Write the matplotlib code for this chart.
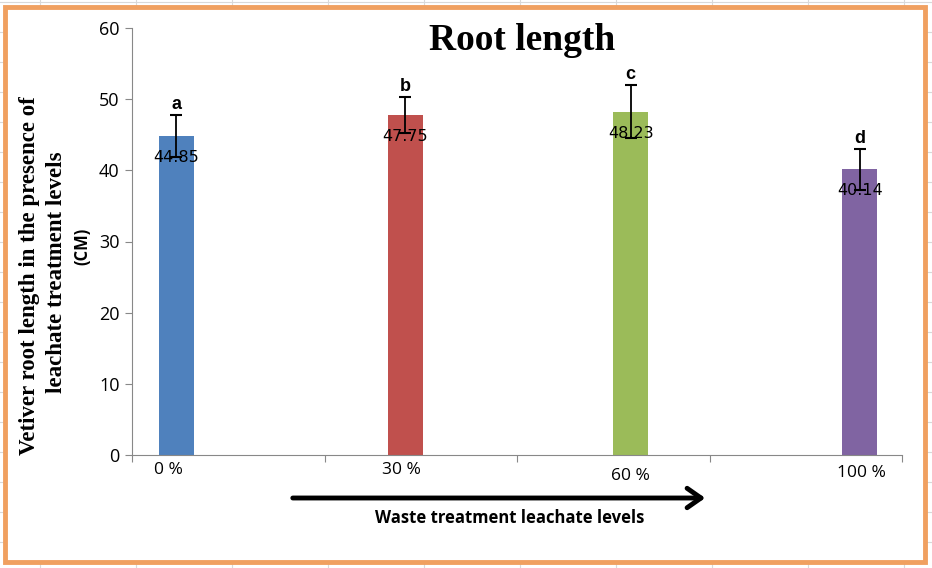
import matplotlib
matplotlib.use('Agg')
import matplotlib.pyplot as plt
from matplotlib.patches import Rectangle, FancyArrowPatch

# data
levels = ['0 %', '30 %', '60 %', '100 %']
root_len = [44.85, 47.75, 48.23, 40.14]
err = [2.95, 2.55, 3.75, 2.9]
letters = ['a', 'b', 'c', 'd']
colors = ['#4F81BD', '#C0504D', '#9BBB59', '#8064A2']

# layout (bars were nudged by hand in the original, not centred in categories)
bar_x = [0.23, 1.42, 2.59, 3.78]
lab_x = [0.19, 1.40, 2.59, 3.79]
lab_dy = [0, 0, -6, -3]

fig = plt.figure(figsize=(9.32, 5.68), dpi=100)

# faint spreadsheet cells behind the chart
for x in range(40, 932, 96):
    fig.add_artist(plt.Line2D([x/932, x/932], [0, 1], color='#d9d9d9', lw=0.8, zorder=0))
for y in range(2, 568, 30):
    fig.add_artist(plt.Line2D([0, 1], [1 - y/568, 1 - y/568], color='#d9d9d9', lw=0.8, zorder=0))
fig.add_artist(Rectangle((5/932, 6/568), 920/932, 555/568, transform=fig.transFigure,
                         facecolor='white', edgecolor='#F0A060', lw=3.5, zorder=1))

ax = fig.add_axes([132/932, 113/568, 770/932, 427/568], zorder=2)
ax.patch.set_alpha(0)
ax.bar(bar_x, root_len, width=0.18, color=colors, zorder=2)
ax.errorbar(bar_x, root_len, yerr=err, fmt='none', ecolor='black', elinewidth=1.3,
            capsize=4, capthick=1.5, zorder=3)

for x, v, e, l in zip(bar_x, root_len, err, letters):
    ax.text(x, v - 3, f'{v:.2f}', ha='center', va='center', fontsize=11.5,
            family='DejaVu Sans', zorder=4)
    ax.text(x, v + e + 0.3, l, ha='center', va='bottom', fontsize=13,
            fontweight='bold', family='Liberation Sans')

ax.set_xlim(0, 4)
ax.set_ylim(0, 60)
ax.set_yticks(range(0, 61, 10))
ax.set_xticks([0, 1, 2, 3, 4])
ax.set_xticklabels([])
ax.tick_params(axis='y', length=5, color='#888888', labelsize=13, pad=4)
ax.tick_params(axis='x', length=5, color='#888888')
for lbl in ax.get_yticklabels():
    lbl.set_family('Open Sans')
for s in ['top', 'right']:
    ax.spines[s].set_visible(False)
for s in ['left', 'bottom']:
    ax.spines[s].set_color('#888888')

for x, t, dy in zip(lab_x, levels, lab_dy):
    ax.annotate(t, (x, 0), xytext=(0, -15 + dy), textcoords='offset pixels',
                ha='center', va='center', fontsize=12.5, family='Open Sans')

fig.text(522/932, 1 - 40/568, 'Root length', ha='center', va='center',
         fontsize=27, fontweight='bold', family='Liberation Serif')
fig.text(30/932, 1 - 276/568, 'Vetiver root length in the presence of', rotation=90,
         ha='center', va='center', fontsize=16.5, fontweight='bold', family='Liberation Serif')
fig.text(57/932, 1 - 272/568, 'leachate treatment levels', rotation=90,
         ha='center', va='center', fontsize=16.5, fontweight='bold', family='Liberation Serif')
fig.text(82/932, 1 - 246/568, '(CM)', rotation=90, ha='center', va='center',
         fontsize=12, fontweight='bold', family='Open Sans')

fig.text(510/932, 1 - 518/568, 'Waste treatment leachate levels', ha='center', va='center',
         fontsize=12, fontweight='bold', family='Open Sans')
fig.add_artist(FancyArrowPatch((290/932, 1 - 498/568), (708/932, 1 - 498/568),
               transform=fig.transFigure, arrowstyle='->,head_length=0.5,head_width=0.35',
               mutation_scale=20, lw=3.5, color='black', capstyle='round',
               joinstyle='round', zorder=5))

fig.savefig('out.png', dpi=100)
